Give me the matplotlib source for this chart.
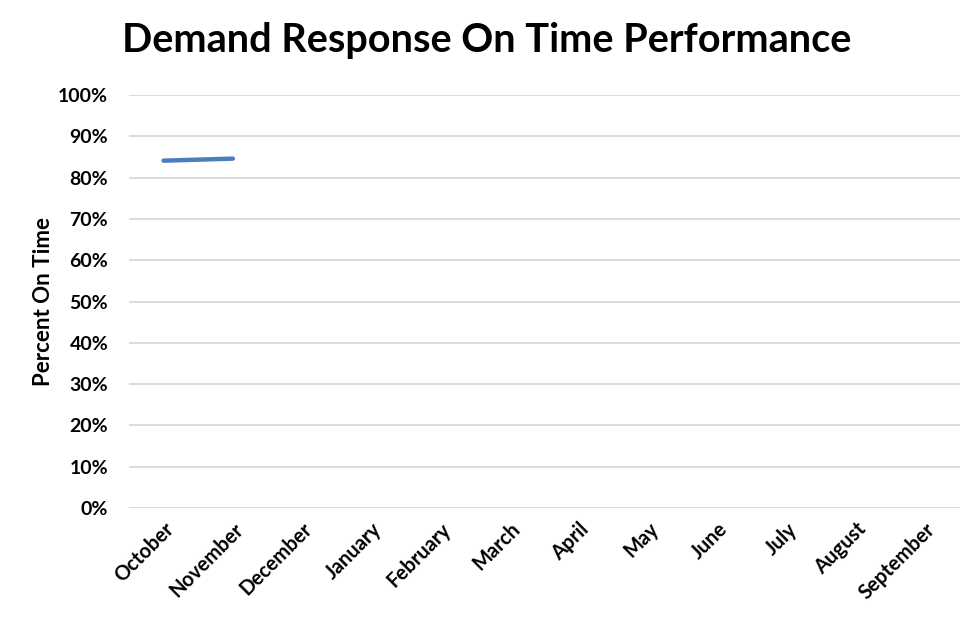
import matplotlib
matplotlib.use("Agg")
import matplotlib.pyplot as plt
from matplotlib.ticker import PercentFormatter

plt.rcParams['font.family'] = ['Lato', 'DejaVu Sans']

months = ['October', 'November', 'December', 'January', 'February', 'March',
          'April', 'May', 'June', 'July', 'August', 'September']
on_time = [0.841, 0.846]  # only October and November reported

fig = plt.figure(figsize=(9.74, 6.19), dpi=100)
ax = fig.add_axes([0.1324, 0.1793, 0.8532, 0.6672])

ax.plot(range(len(on_time)), on_time, color='#4a7ebf', linewidth=3.2,
        solid_capstyle='round')

ax.set_xlim(-0.5, len(months) - 0.5)
ax.set_ylim(0, 1)
ax.set_yticks([i / 10 for i in range(11)])
ax.yaxis.set_major_formatter(PercentFormatter(1.0, decimals=0))
ax.set_xticks(range(len(months)))
ax.set_xticklabels(months, rotation=45, ha='right', rotation_mode='anchor',
                   fontsize=14.5, fontweight='bold')
for lab in ax.get_yticklabels():
    lab.set_fontsize(14)
    lab.set_fontweight('bold')

ax.grid(axis='y', color='#d9d9d9', linewidth=1.3)
ax.set_axisbelow(True)
for s in ax.spines.values():
    s.set_visible(False)
ax.tick_params(length=0)
ax.tick_params(axis='y', pad=15)
ax.tick_params(axis='x', pad=8)

ax.set_ylabel('Percent On Time', fontsize=16, fontweight='bold', labelpad=3)
fig.text(0.5, 0.935, 'Demand Response On Time Performance', fontsize=28.5,
         fontweight='bold', ha='center', va='center')

fig.savefig('out.png', dpi=100)
